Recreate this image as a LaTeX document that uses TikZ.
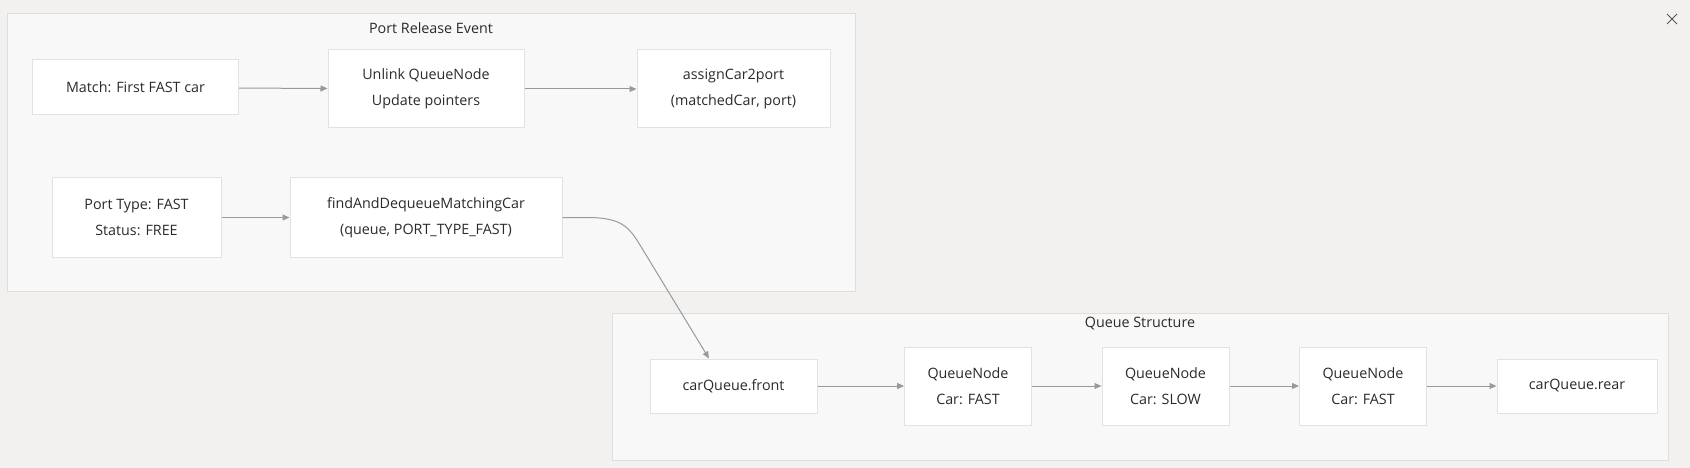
\documentclass[tikz,border=0pt]{standalone}
\usepackage{fontspec}
\setmainfont{Open Sans}
\usetikzlibrary{arrows.meta,calc}
\definecolor{bgc}{HTML}{F2F1F0}
\definecolor{clfill}{HTML}{F8F8F8}
\definecolor{clline}{HTML}{DDDDDD}
\definecolor{ndline}{HTML}{E2E2E2}
\definecolor{txt}{HTML}{2A2A2A}
\definecolor{arr}{HTML}{999999}
\begin{document}
\begin{tikzpicture}[x=1pt,y=-1pt,
  box/.style={draw=ndline,line width=1pt,fill=white,align=center,text=txt,
    font=\fontsize{14.3}{25.5}\selectfont,inner sep=0pt},
  cluster/.style={draw=clline,line width=1pt,fill=clfill},
  ttl/.style={text=txt,font=\fontsize{14.3}{17}\selectfont},
  link/.style={draw=arr,line width=1pt,-{Triangle[length=7pt,width=6pt]}}]
\useasboundingbox[fill=bgc] (0,0) rectangle (1690,468);
% clusters
\draw[cluster] (7.5,14) rectangle (855,291);
\node[ttl] (t1) at (431,28) {Port Release Event};
\draw[cluster] (612,313) rectangle (1668,460);
\node[ttl] (t2) at (1140,324) {Queue Structure};
% nodes
\node[box,minimum width=206pt,minimum height=55pt] (match) at (135.5,87.5) {Match: First FAST car};
\node[box,minimum width=196pt,minimum height=78pt] (unlink) at (426,89) {Unlink QueueNode\\Update pointers};
\node[box,minimum width=193pt,minimum height=78pt] (assign) at (733.5,89) {assignCar2port\\(matchedCar, port)};
\node[box,minimum width=169pt,minimum height=79pt] (port) at (136.5,217.5) {Port Type: FAST\\Status: FREE};
\node[box,minimum width=272pt,minimum height=79pt] (find) at (426,217.5) {findAndDequeueMatchingCar\\(queue, PORT\_TYPE\_FAST)};
\node[box,minimum width=167pt,minimum height=54pt] (front) at (733.5,386) {carQueue.front};
\node[box,minimum width=127pt,minimum height=78pt] (qn1) at (968,386) {QueueNode\\Car: FAST};
\node[box,minimum width=127pt,minimum height=78pt] (qn2) at (1165.5,386) {QueueNode\\Car: SLOW};
\node[box,minimum width=127pt,minimum height=78pt] (qn3) at (1363,386) {QueueNode\\Car: FAST};
\node[box,minimum width=160pt,minimum height=54pt] (rear) at (1577,386) {carQueue.rear};
% connectors
\draw[link] (find.east) -- ++(30,0) .. controls (620,219) and (628,225) .. (640,245) -- (709,358.5);
\draw[link] (match) -- (unlink);
\draw[link] (unlink) -- (assign);
\draw[link] (port) -- (find);
\draw[link] (front) -- (qn1);
\draw[link] (qn1) -- (qn2);
\draw[link] (qn2) -- (qn3);
\draw[link] (qn3) -- (rear);
% close mark
\coordinate (xc) at (1672,19);
\draw[draw=txt!80,line width=1pt] ($(xc)+(-5,-5)$) -- ($(xc)+(5,5)$) ($(xc)+(-5,5)$) -- ($(xc)+(5,-5)$);
\end{tikzpicture}
\end{document}
